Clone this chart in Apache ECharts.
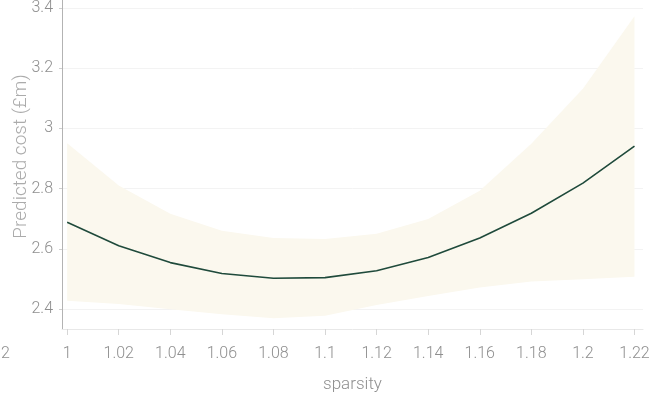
<!DOCTYPE html>
<html>
<head>
<meta charset="utf-8">
<script src="https://cdn.jsdelivr.net/npm/echarts@6/dist/echarts.min.js"></script>
<style>
  html, body { margin: 0; padding: 0; background: #ffffff; }
  #chart { width: 664px; height: 402px; }
</style>
</head>
<body>
<div id="chart"></div>
<script>
// Sparsity values along the x axis
var sparsity = [1, 1.02, 1.04, 1.06, 1.08, 1.1, 1.12, 1.14, 1.16, 1.18, 1.2, 1.22];
// Predicted cost (£m) and its confidence band
var predicted = [2.688, 2.61, 2.554, 2.518, 2.502, 2.504, 2.527, 2.571, 2.636, 2.718, 2.818, 2.941];
var upper = [2.951, 2.81, 2.716, 2.66, 2.636, 2.632, 2.65, 2.699, 2.793, 2.949, 3.132, 3.373];
var lower = [2.427, 2.416, 2.399, 2.382, 2.369, 2.377, 2.413, 2.443, 2.471, 2.491, 2.499, 2.507];
// Tick positions
var xTicks = [1, 1.02, 1.04, 1.06, 1.08, 1.1, 1.12, 1.14, 1.16, 1.18, 1.2, 1.22];
var yTicks = [2.4, 2.6, 2.8, 3, 3.2, 3.4];

var FONT = 'Roboto, Lato, sans-serif';
var TEXT = '#8f8f8f';

var linePts = sparsity.map(function (x, i) { return [x, predicted[i]]; });
var bandData = sparsity.map(function (x, i) { return [x, lower[i], upper[i]]; });

// Confidence band: one polygon running along the upper edge and back along the lower edge
function renderBand(params, api) {
  if (params.dataIndex !== 0) return null;
  var top = [], bottom = [];
  for (var i = 0; i < sparsity.length; i++) {
    top.push(api.coord([sparsity[i], upper[i]]));
    bottom.push(api.coord([sparsity[i], lower[i]]));
  }
  var pts = top.concat(bottom.reverse());
  return {
    type: 'polygon',
    shape: { points: pts },
    style: { fill: '#fbf8ee', stroke: null },
    silent: true
  };
}

var chart = echarts.init(document.getElementById('chart'), null, { renderer: 'canvas' });
chart.setOption({
  animation: false,
  backgroundColor: '#ffffff',
  grid: { left: 62, right: 21, top: 0, bottom: 73, containLabel: false, outerBoundsMode: 'none' },
  xAxis: {
    type: 'value',
    min: 0.998,
    max: 1.2233,
    name: 'sparsity',
    nameLocation: 'middle',
    nameGap: 47,
    nameMoveOverlap: false,
    nameTextStyle: { color: TEXT, fontFamily: FONT, fontSize: 17, fontWeight: 300 },
    axisLine: { show: true, lineStyle: { color: '#e8e8e8', width: 1 } },
    axisTick: { show: true, length: 6, customValues: xTicks, lineStyle: { color: '#d6d6d6' } },
    axisLabel: {
      customValues: xTicks,
      color: TEXT, fontFamily: FONT, fontSize: 16, fontWeight: 300, margin: 17,
      formatter: function (v) { return String(+v.toFixed(2)); }
    },
    splitLine: { show: false }
  },
  yAxis: {
    type: 'value',
    min: 2.3333,
    max: 3.4267,
    name: 'Predicted cost (£m)',
    nameLocation: 'middle',
    nameGap: 31,
    nameMoveOverlap: false,
    nameRotate: 90,
    nameTextStyle: {
      color: '#ababab', fontFamily: FONT, fontSize: 19, fontWeight: 300,
      padding: [0, 0, 0, 16]
    },
    axisLine: { show: true, lineStyle: { color: '#b3b3b3', width: 1 } },
    axisTick: { show: true, length: 3, customValues: yTicks, lineStyle: { color: '#cfcfcf' } },
    axisLabel: {
      customValues: yTicks,
      color: TEXT, fontFamily: FONT, fontSize: 16, fontWeight: 300, margin: 9,
      formatter: function (v) { return String(+v.toFixed(1)); }
    },
    splitLine: { show: true, lineStyle: { color: '#f3f3f3', width: 1 } }
  },
  graphic: [{
    type: 'text', left: 1, top: 346,
    style: { text: '2', fill: TEXT, font: '300 16px ' + FONT }
  }],
  series: [
    {
      type: 'custom',
      renderItem: renderBand,
      data: bandData,
      encode: { x: 0, y: [1, 2] },
      silent: true,
      z: 1
    },
    {
      type: 'line', data: linePts, symbol: 'none',
      lineStyle: { color: '#1f4a3b', width: 1.6 },
      z: 3
    }
  ]
});
</script>
</body>
</html>
